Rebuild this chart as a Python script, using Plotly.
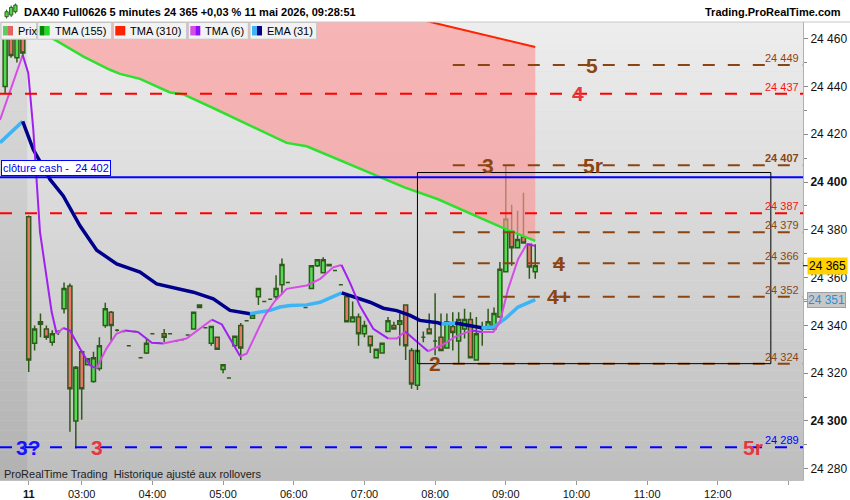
import plotly.graph_objects as go
import pandas as pd

# ---------------- data ----------------
# last Friday bars (visible at the left edge)
fri_times = ["21:40", "21:45", "21:50", "21:55"]
fri_open = [24440, 24462, 24452, 24462]
fri_high = [24470, 24468, 24468, 24468]
fri_low = [24437, 24452, 24450, 24452]
fri_close = [24464, 24453, 24462, 24454]

# Monday 11 May 2026, 5-minute bars from 02:15
mon_open = [24385.5, 24332.5, 24341.5, 24338.5, 24333, 24337, 24347, 24356.5, 24300, 24329,
            24323.5, 24316.5, 24322, 24340, 24345.5, 24338, 24337.5, 24331.5, 24337.5, 24326.5,
            24328.5, 24336.5, 24332.5, 24336.5, 24336.5, 24333.5, 24334, 24336, 24338.5, 24347.5,
            24339, 24332.5, 24335, 24321.5, 24318, 24331.5, 24340, 24342, 24343, 24352,
            24350, 24351, 24352, 24357, 24358, 24348.3, 24348.5, 24347.5, 24355.5, 24365,
            24362, 24365, 24363, 24357, 24352, 24341.5, 24343.5, 24336.5, 24335.5, 24326.5,
            24328.5, 24337.5, 24340, 24340.5, 24348.5, 24329.5, 24315, 24335, 24338.5, 24333.5,
            24335, 24330.5, 24339.5, 24333.5, 24338.5, 24342.5, 24325.5, 24338.5, 24338.5, 24338.5,
            24343.5, 24362.5, 24379.5, 24372.5, 24377, 24374, 24362.5]
mon_high = [24386, 24340, 24345, 24340, 24338, 24338, 24358, 24357.5, 24323, 24329.5,
            24326, 24329, 24335, 24349.5, 24346, 24338.5, 24337.5, 24331.5, 24337.5, 24326.5,
            24334.5, 24336.5, 24332.5, 24338.5, 24336.5, 24333.5, 24334, 24336, 24345.5, 24348.5,
            24339, 24339.5, 24335, 24323.5, 24318, 24335.5, 24341, 24342, 24344.5, 24355.5,
            24350, 24351, 24361, 24368, 24358, 24348.3, 24348.5, 24347.5, 24365, 24367.5,
            24368.5, 24365.5, 24363, 24357, 24352, 24350, 24345, 24342, 24335.5, 24330,
            24332.5, 24343.5, 24341.5, 24345, 24348.5, 24330.5, 24329.5, 24337.5, 24345, 24353.5,
            24345, 24345, 24345.5, 24345.5, 24347, 24345.5, 24343.5, 24341.5, 24347, 24347.5,
            24366.5, 24407, 24390.5, 24388, 24395.5, 24374, 24374]
mon_low = [24320.5, 24329.5, 24335, 24334, 24331.5, 24336, 24345, 24295.5, 24288.5, 24300.5,
           24323.5, 24316, 24321, 24339, 24333.5, 24337.5, 24337.5, 24331.5, 24337.5, 24326.5,
           24328, 24336.5, 24332.5, 24333, 24336.5, 24333.5, 24334, 24336, 24338.5, 24347.5,
           24339, 24331.5, 24330, 24320, 24318, 24331.5, 24325.5, 24342, 24343, 24348.5,
           24350, 24351, 24351, 24353, 24358, 24348.3, 24348.5, 24347.5, 24355.5, 24364.5,
           24362, 24365, 24363, 24357, 24341.5, 24341.5, 24331.5, 24335, 24328.5, 24326.5,
           24328.5, 24337.5, 24338.5, 24331.5, 24325.5, 24313.5, 24313, 24333, 24336.5, 24327.5,
           24329.5, 24330.5, 24329.5, 24324, 24334.5, 24326.5, 24325.5, 24331.5, 24338.5, 24338.5,
           24343.5, 24362.5, 24365, 24372.5, 24374.5, 24359.5, 24359.5]
mon_close = [24325.5, 24338.5, 24340.5, 24335, 24336.5, 24337, 24355.5, 24313.5, 24322.5, 24313.5,
             24326, 24326.5, 24331.5, 24347, 24340, 24338, 24337.5, 24331.5, 24337.5, 24326.5,
             24332.5, 24336.5, 24332.5, 24335, 24336.5, 24333.5, 24334, 24336, 24345.5, 24348.5,
             24339, 24339.5, 24330, 24323.5, 24318, 24335.5, 24330.5, 24342, 24344.5, 24355.5,
             24350, 24351, 24355.5, 24365.5, 24358, 24348.3, 24348.5, 24347.5, 24365, 24367.5,
             24367.5, 24365.5, 24363, 24357, 24341.5, 24343.5, 24336.5, 24340, 24331.5, 24330,
             24332.5, 24342, 24338.5, 24342, 24331.5, 24315.5, 24329.5, 24335, 24336.5, 24333.5,
             24329.5, 24341.5, 24337, 24342.5, 24342.5, 24326.5, 24336.5, 24338.5, 24341.5, 24345,
             24363.5, 24384.5, 24372.5, 24376, 24374.5, 24364.5, 24365]
mon_times = pd.date_range("2026-05-11 02:15", periods=len(mon_open), freq="5min").strftime("%H:%M").tolist()

# indicator lines: (position in bars from 02:15, value)
tma155_bar = [0, 4.47, 9.3, 13.8, 15.5, 18.9, 24.0, 26.2, 31.3, 38.1, 43.8, 47.2, 55.1, 59.6,
              63.9, 69.5, 74.6, 80.3, 86]
tma155_val = [24465, 24459.5, 24452.5, 24447, 24445.3, 24443.2, 24437.5, 24436.8, 24431, 24422.9,
              24416.4, 24415, 24406.7, 24402.3, 24397.7, 24392.8, 24387.2, 24381, 24375.4]
tma310_bar = [0, 30, 68.2, 86]
tma310_val = [24509, 24489, 24467, 24456.5]
ema31_bar = [-4.87, -1.02, 0.78, 3.62, 5.87, 8.71, 11.55, 14.94, 18.9, 21.73, 24.0, 27.95, 31.34,
             34.18, 37.57, 40.97, 42.67, 44.4, 47.2, 49.46, 53.14, 55.69, 57.95, 60.2, 62.48,
             64.74, 66.4, 69.5, 70.1, 72.4, 72.9, 76.9, 78.9, 80.9, 83.1, 86.0]
ema31_val = [24416.5, 24425.4, 24413.6, 24401.1, 24394.2, 24381.7, 24371.5, 24365.7, 24362.3,
             24357.4, 24356, 24353.9, 24351.1, 24346.3, 24344.9, 24346.3, 24347.7, 24348.3,
             24348.6, 24349.7, 24353.6, 24351.4, 24349.7, 24347.2, 24346.2, 24344.2, 24342.1,
             24341.1, 24340.6, 24341.0, 24340.8, 24339.0, 24339.3, 24342.8, 24347.7, 24350.8]
tma6_bar = [-4.87, -1.02, -0.07, 0.78, 1.92, 3.9, 4.75, 5.87, 7.0, 8.7, 10.4, 11.5, 13.2, 14.9,
            16.35, 18.6, 20.9, 22.85, 26.8, 31.1, 32.8, 35.9, 37.0, 40.1, 41.8, 43.8, 47.2, 49.5,
            51.7, 53.1, 54.5, 56.2, 58.5, 61.05, 62.5, 63.9, 65.6, 67.8, 70.1, 72.4, 75.2, 76.9,
            78.9, 80.0, 81.4, 83.1, 84.55, 85.4, 86.0]
tma6_val = [24426, 24453.2, 24445.6, 24422, 24379, 24345.6, 24336.5, 24338.9, 24337.9, 24330.3,
            24323.3, 24322, 24330.3, 24336.5, 24337.9, 24337.2, 24332.7, 24332.4, 24334.5, 24342.4,
            24340.4, 24327.1, 24328.2, 24344.2, 24350.2, 24355.3, 24356.7, 24359.5, 24364.3,
            24365.3, 24358.1, 24348.3, 24338.6, 24334.5, 24334.5, 24337.5, 24333.7, 24329.2,
            24331.7, 24335.2, 24337.9, 24337.2, 24337.2, 24341.4, 24355.3, 24367.8, 24374, 24373.6,
            24373.3]

# drawn levels
brown_levels = [24449, 24407, 24379, 24366, 24352, 24324]
brown_start = "08:15"
red_levels = [24437, 24387]
blue_levels = [24289]
cash_close = 24402
box_start, box_end, box_top, box_bottom = "07:45", "12:45", 24404, 24324

# wave labels: text, time, level, colour-key
wave_labels = [("5", "10:13", 24449, "brown"), ("4", "10:01", 24437, "red"),
               ("3", "08:45", 24407, "brown"), ("5r", "10:14", 24407, "brown"),
               ("4", "09:45", 24366, "brown"), ("4+", "09:45", 24352, "brown"),
               ("2", "08:00", 24324, "brown"), ("3?", "02:15", 24289, "blue"),
               ("3", "03:13", 24289, "red"), ("5r", "12:30", 24289, "red")]

hour_times = ["02:15", "03:00", "04:00", "05:00", "06:00", "07:00", "08:00", "09:00",
              "10:00", "11:00", "12:00", "13:00"]
hour_labels = ["<b>11</b>", "03:00", "04:00", "05:00", "06:00", "07:00", "08:00", "09:00",
               "10:00", "11:00", "12:00", ""]
y_ticks = [24280, 24300, 24320, 24340, 24360, 24380, 24400, 24420, 24440, 24460]
y_bold = [24300, 24400]

title_text = "DAX40 Full0626 5 minutes 24 365 +0,03 % 11 mai 2026, 09:28:51"

# ---------------- helpers ----------------
SESSION_START_MIN = 2 * 60 + 15
BAR_MIN = 5


def bar_of(t):
    h, m = (int(s) for s in t.split(":"))
    return (h * 60 + m - SESSION_START_MIN) / BAR_MIN


def fmt(v):
    return f"{v:,.0f}".replace(",", " ")


W, H = 850, 500
PL, PR, PT, PB = 0, 803, 22, 482


def px_x(px):
    return (px - PL) / (PR - PL)


def px_y(py):
    return 1 - (py - PT) / (PB - PT)


X_RANGE = [-4.873, 131.46]
Y_RANGE = [24275.3, 24467.0]

COL = {"brown": "#8b4513", "red": "#e8353f", "blue": "#1414ff"}
LINE_COL = {"brown": "#8b4513", "red": "#ff0000", "blue": "#0000ff"}
FONT = "Liberation Sans, Arial, sans-serif"

candle_x = list(range(-len(fri_times), 0)) + [bar_of(t) for t in mon_times]
o = fri_open + mon_open
h = fri_high + mon_high
lo = fri_low + mon_low
c = fri_close + mon_close


def slope_runs(xs, ys, up_color, down_color):
    runs = []
    cur = None
    for k in range(len(xs) - 1):
        col = up_color if ys[k + 1] >= ys[k] else down_color
        if cur is None or cur[0] != col:
            cur = [col, [xs[k]], [ys[k]]]
            runs.append(cur)
        cur[1].append(xs[k + 1])
        cur[2].append(ys[k + 1])
    return runs


fig = go.Figure()

# cloud between TMA(155) and TMA(310)
fig.add_trace(go.Scatter(x=tma310_bar, y=tma310_val, mode="lines", line=dict(width=0),
                         hoverinfo="skip"))
fig.add_trace(go.Scatter(x=tma155_bar, y=tma155_val, mode="lines", line=dict(width=0),
                         fill="tonexty", fillcolor="rgba(252,150,150,0.65)", hoverinfo="skip"))

# candles
fig.add_trace(go.Candlestick(
    x=candle_x, open=o, high=h, low=lo, close=c,
    increasing=dict(line=dict(color="#2f5a1a", width=1.5), fillcolor="#52dc52"),
    decreasing=dict(line=dict(color="#2f5a1a", width=1.5), fillcolor="#e8766a"),
    whiskerwidth=0, hoverinfo="skip"))

# moving averages
fig.add_trace(go.Scatter(x=tma310_bar, y=tma310_val, mode="lines",
                         line=dict(color="#ff2200", width=2)))
fig.add_trace(go.Scatter(x=tma155_bar, y=tma155_val, mode="lines",
                         line=dict(color="#2ee02e", width=2.5)))
for col, xs, ys in slope_runs(ema31_bar, ema31_val, "#3cb4f5", "#00008b"):
    fig.add_trace(go.Scatter(x=xs, y=ys, mode="lines", line=dict(color=col, width=3.5)))
for col, xs, ys in slope_runs(tma6_bar, tma6_val, "#d64ce6", "#a020f0"):
    fig.add_trace(go.Scatter(x=xs, y=ys, mode="lines", line=dict(color=col, width=2)))

shapes = []
annotations = []

# background gradient
N = 46
top_rgb, bot_rgb = (238, 238, 238), (189, 189, 189)
for k in range(N):
    t = (k + 0.5) / N
    rgb = tuple(int(round(top_rgb[j] + (bot_rgb[j] - top_rgb[j]) * t)) for j in range(3))
    shapes.append(dict(type="rect", xref="paper", yref="paper", x0=0, x1=1,
                       y0=1 - k / N, y1=1 - (k + 1) / N, line=dict(width=0),
                       fillcolor="rgb(%d,%d,%d)" % rgb, layer="below"))
# previous session shading
shapes.append(dict(type="rect", xref="x", yref="paper", x0=X_RANGE[0] - 2, x1=-0.25, y0=0, y1=1,
                   line=dict(width=0), fillcolor="rgba(0,0,0,0.06)", layer="below"))

DASH = "12px,13px"
for lv in red_levels:
    shapes.append(dict(type="line", xref="paper", yref="y", x0=0, x1=1, y0=lv, y1=lv,
                       line=dict(color=LINE_COL["red"], width=2, dash=DASH), layer="above"))
for lv in blue_levels:
    shapes.append(dict(type="line", xref="paper", yref="y", x0=0, x1=1, y0=lv, y1=lv,
                       line=dict(color=LINE_COL["blue"], width=2, dash=DASH), layer="above"))
for lv in brown_levels:
    shapes.append(dict(type="line", xref="x", yref="y", x0=bar_of(brown_start), x1=X_RANGE[1],
                       y0=lv, y1=lv, line=dict(color=LINE_COL["brown"], width=2, dash=DASH),
                       layer="above"))
shapes.append(dict(type="line", xref="paper", yref="y", x0=0, x1=1, y0=cash_close, y1=cash_close,
                   line=dict(color="#0000ff", width=2), layer="above"))
shapes.append(dict(type="rect", xref="x", yref="y", x0=bar_of(box_start), x1=bar_of(box_end),
                   y0=box_bottom, y1=box_top, line=dict(color="black", width=1), layer="above"))

# level value labels at the right edge
for lv in brown_levels:
    annotations.append(dict(xref="paper", yref="y", x=px_x(800), y=lv, xanchor="right",
                            yanchor="bottom", showarrow=False, text=fmt(lv) if lv != 24407 else "<b>%s</b>" % fmt(lv),
                            font=dict(size=11, color=LINE_COL["brown"], family=FONT),
                            borderpad=0))
for lv in red_levels:
    annotations.append(dict(xref="paper", yref="y", x=px_x(800), y=lv, xanchor="right",
                            yanchor="bottom", showarrow=False, text=fmt(lv),
                            font=dict(size=11, color="#ff1010", family=FONT), borderpad=0))
for lv in blue_levels:
    annotations.append(dict(xref="paper", yref="y", x=px_x(800), y=lv, xanchor="right",
                            yanchor="bottom", showarrow=False, text=fmt(lv),
                            font=dict(size=11, color="#0000ff", family=FONT), borderpad=0))

# wave labels
for txt, tm, lv, ck in wave_labels:
    annotations.append(dict(xref="x", yref="y", x=bar_of(tm), y=lv, xanchor="center",
                            yanchor="middle", showarrow=False, text="<b>%s</b>" % txt,
                            font=dict(size=21, color=COL[ck], family=FONT)))

# cash close label
annotations.append(dict(xref="paper", yref="y", x=px_x(1), y=cash_close, xanchor="left",
                        yanchor="bottom", showarrow=False, yshift=1,
                        text="clôture cash -  " + fmt(cash_close),
                        font=dict(size=11, color="#0000ee", family=FONT), bgcolor="white",
                        bordercolor="#0000ff", borderwidth=1, borderpad=1))

# last price / last EMA tags on the price scale
last_close = mon_close[-1]
last_ema = ema31_val[-1]
shapes.append(dict(type="line", xref="paper", yref="y", x0=1, x1=px_x(808), y0=last_close,
                   y1=last_close, line=dict(color="black", width=1)))
annotations.append(dict(xref="paper", yref="y", x=px_x(807), y=last_close, xanchor="left",
                        yanchor="middle", showarrow=False, text=fmt(last_close),
                        font=dict(size=12, color="black", family=FONT), bgcolor="#ffd200",
                        borderpad=1))
shapes.append(dict(type="line", xref="paper", yref="y", x0=1, x1=px_x(808), y0=last_ema,
                   y1=last_ema, line=dict(color="#3cb4f5", width=1)))
annotations.append(dict(xref="paper", yref="y", x=px_x(807), y=last_ema, xanchor="left",
                        yanchor="middle", showarrow=False, text=fmt(last_ema),
                        font=dict(size=12, color="#2a8fd8", family=FONT), bgcolor="#c8c8c8",
                        bordercolor="#a0a0a0", borderwidth=1, borderpad=0))

# header
shapes.append(dict(type="line", xref="paper", yref="paper", x0=0, x1=px_x(850), y0=1, y1=1,
                   line=dict(color="#c8c8c8", width=1)))
icon = [(6.6, 11.7, 16.7, 9.5, 18.5), (11.2, 7.3, 15, 5.5, 17), (15.4, 5, 11.7, 3.5, 13.5)]
for cx, b0, b1, w0, w1 in icon:
    shapes.append(dict(type="line", xref="paper", yref="paper", x0=px_x(cx), x1=px_x(cx),
                       y0=px_y(w0), y1=px_y(w1), line=dict(color="#2f5a1a", width=1)))
    shapes.append(dict(type="rect", xref="paper", yref="paper", x0=px_x(cx - 1.6),
                       x1=px_x(cx + 1.6), y0=px_y(b0), y1=px_y(b1), fillcolor="#52dc52",
                       line=dict(color="#2f5a1a", width=1)))
annotations.append(dict(xref="paper", yref="paper", x=px_x(22), y=px_y(11.5), xanchor="left",
                        yanchor="middle", showarrow=False, text="<b>%s</b>" % title_text,
                        font=dict(size=11, color="black", family=FONT)))
annotations.append(dict(xref="paper", yref="paper", x=px_x(843), y=px_y(11.5), xanchor="right",
                        yanchor="middle", showarrow=False, text="<b>Trading.ProRealTime.com</b>",
                        font=dict(size=11, color="black", family=FONT)))

# legend bar
legend_items = [("Prix", ["#5ccd5c", "#e06464"]), ("TMA (155)", ["#008a00", "#22dd22"]),
                ("TMA (310)", ["#ff2200"]), ("TMA (6)", ["#d64ce6", "#8a10ff"]),
                ("EMA (31)", ["#3cb4f5", "#00008b"])]
legend_boxes = [(1, 36.7), (37.7, 111.7), (113.3, 186.7), (188.3, 248.3), (250, 316.7)]
for (name, cols), (bx0, bx1) in zip(legend_items, legend_boxes):
    shapes.append(dict(type="rect", xref="paper", yref="paper", x0=px_x(bx0), x1=px_x(bx1),
                       y0=px_y(22.5), y1=px_y(39.3), fillcolor="#f2f2f2",
                       line=dict(color="#c4c4c4", width=1), layer="above"))
    sw = 10 / len(cols)
    for j, sc in enumerate(cols):
        shapes.append(dict(type="rect", xref="paper", yref="paper",
                           x0=px_x(bx0 + 2 + j * sw), x1=px_x(bx0 + 2 + (j + 1) * sw),
                           y0=px_y(26), y1=px_y(35.5), fillcolor=sc, line=dict(width=0),
                           layer="above"))
    annotations.append(dict(xref="paper", yref="paper", x=px_x(bx0 + 15), y=px_y(31),
                            xanchor="left", yanchor="middle", showarrow=False, text=name,
                            font=dict(size=11, color="black", family=FONT)))

# footer text inside plot
annotations.append(dict(xref="paper", yref="paper", x=px_x(2), y=px_y(476), xanchor="left",
                        yanchor="middle", showarrow=False,
                        text="ProRealTime Trading  Historique ajusté aux rollovers",
                        font=dict(size=11, color="#222", family=FONT)))

y_text = ["<b>%s</b>" % fmt(v) if v in y_bold else fmt(v) for v in y_ticks]

fig.update_layout(
    width=W, height=H,
    margin=dict(l=PL, r=W - PR, t=PT, b=H - PB, pad=0),
    paper_bgcolor="white", plot_bgcolor="#dddddd",
    showlegend=False, hovermode=False,
    boxgap=0.15, boxgroupgap=0.2,
    font=dict(family=FONT, size=11, color="#111"),
    shapes=shapes, annotations=annotations,
    xaxis=dict(range=X_RANGE, rangeslider=dict(visible=False), tickmode="array",
               tickvals=[bar_of(t) for t in hour_times], ticktext=hour_labels,
               ticks="outside", ticklen=4, tickcolor="#999", showgrid=False, zeroline=False,
               showline=True, linecolor="#c0c0c0", tickfont=dict(size=11, color="#111")),
    yaxis=dict(range=Y_RANGE, side="right", tickmode="array", tickvals=y_ticks, ticktext=y_text,
               ticks="outside", ticklen=4, tickcolor="#888", showgrid=False, zeroline=False,
               showline=True, linecolor="#b0b0b0", tickfont=dict(size=12, color="#111"),
               minor=dict(tickmode="linear", tick0=24270, dtick=10, ticks="outside",
                          ticklen=3, tickcolor="#888", showgrid=False)),
)

fig.write_html("out.html", config={"displayModeBar": False},
               post_script="document.body.style.margin='0';document.body.style.overflow='hidden';")
